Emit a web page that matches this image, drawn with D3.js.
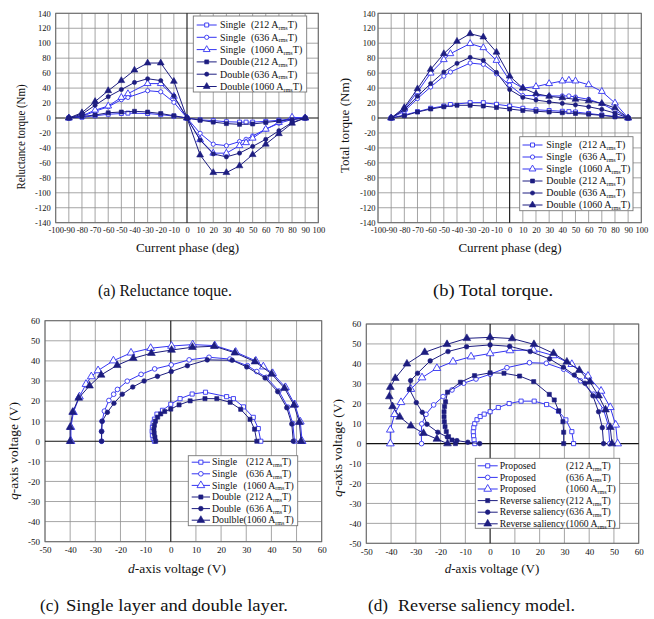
<!DOCTYPE html>
<html><head><meta charset="utf-8">
<script src="https://cdn.jsdelivr.net/npm/d3@7"></script>
<style>body{margin:0;background:#fff}</style>
</head><body>
<svg id="c" width="654" height="619"></svg>
<script>
// ---------------- DATA ----------------
const phaseTicks = [-100,-90,-80,-70,-60,-50,-40,-30,-20,-10,0,10,20,30,40,50,60,70,80,90,100];
const torqueTicks = [-140,-120,-100,-80,-60,-40,-20,0,20,40,60,80,100,120,140];
const voltTicks = [-50,-40,-30,-20,-10,0,10,20,30,40,50,60];

const phaseSingle = [-90,-80,-70,-60,-50,-45,-30,-20,-10,0,10,20,30,40,45,50,60,70,80,90];
const phaseDouble = [-90,-80,-70,-60,-50,-40,-30,-20,-10,0,10,20,30,40,50,60,70,80,90];

// (a) reluctance torque (Nm)
const relSingle212  = [0,1,3,5,6,6.5,6,4.5,2.5,0,-2.5,-3.5,-5,-5.5,-5.5,-5.5,-4.5,-3,-1.5,0];
const relSingle636  = [0,2,9,15,24.5,27.5,36.5,35,21,0,-20.5,-35,-37,-31.5,-28.5,-24,-15,-7,-2,0];
const relSingle1060 = [0,3,10.5,16,27.5,32.5,46,46,29,0,-29,-47,-47,-37,-33,-27,-15,-6,1,0];
const relDouble212  = [0,2,4,7,8,9,8,6,3,0,-3,-5.5,-7.5,-8.5,-8,-6,-4,-2,0];
const relDouble636  = [0,5,17,28.5,38,47.5,52.5,50,29.5,0,-29.5,-48,-52,-47,-38,-28.5,-17,-6,0];
const relDouble1060 = [0,7,22,36.5,50,64,73.5,73.5,49,0,-49.5,-73,-73,-64,-49,-35,-21,-7,0];

// (b) total torque (Nm)
const totSingle212  = [0,4,8.5,13,16,18,20.5,20.5,18.3,16,13,11,10,9,8.5,8,6,4,2,0];
const totSingle636  = [0,9,26,41.5,56,61.5,73.5,71.7,59,44,30,30,29.5,29.5,29.5,28,25,19,10,0];
const totSingle1060 = [0,12,35,60,78,86,99.5,94,77,50,40,42,46,49.5,50.5,49.5,44.5,35.5,20,0];
const totDouble212  = [0,3,8,12,15,17,17,16,14,12,10,9,8,7,6,5,3.5,1.5,0];
const totDouble636  = [0,11,29,46,61.5,73,81,77,61,38,27.5,24,21.5,19.5,17.5,15,11.5,6.5,0];
const totDouble1060 = [0,14,39,65,86,102.5,112.7,108.3,88,56,40,32.5,29,27,25,23,19.5,13.5,0];

// (c) dq voltages [Vd, Vq] (V)
const vSingle212 = [[-6.5,0],[-7,1.5],[-7.3,3],[-7.4,5],[-7.3,7],[-7,9],[-6.5,11],[-5.5,13.5],[-3.3,15.4],[0,18.4],[3.7,21.2],[8.5,23.5],[13.8,24.4],[22.2,22.2],[24.9,21.2],[28.9,17.1],[32.8,11.9],[34.8,6.3],[35.8,0]];
const vSingle636 = [[-27.5,0],[-27.5,5],[-27.3,10],[-26.4,15],[-24.6,20.3],[-22.7,23.4],[-21.2,25.8],[-17.3,29.9],[-11.8,33.3],[-6.4,36],[0.2,38],[7.3,40.5],[15.2,41.8],[23.5,40.9],[30.5,37.6],[34.2,34.7],[38,31.8],[43,25],[46.5,17],[48.5,8.8],[49.2,0]];
const vSingle1060 = [[-39.7,0],[-39.7,7],[-38.7,14.4],[-36.3,22.2],[-33.7,28.4],[-31.6,32.2],[-28.9,35.2],[-22.8,40.1],[-15.8,44],[-8,46.3],[0.3,47.4],[8.7,48.1],[17.5,47.6],[25.8,44.4],[33.8,40],[36.8,37.1],[40.5,33.8],[45.6,26.8],[49.3,18.3],[51.5,9.7],[52.2,0]];
const vDouble212 = [[-6,0],[-6.3,2],[-6.6,4],[-6.7,6],[-6.5,8],[-6.1,10],[-5.2,12],[-4,13.6],[-2.4,14.8],[0,16],[3.3,18.1],[7.7,20.1],[13.6,21.2],[18.3,21.2],[23.6,19.4],[27.8,15.9],[31.5,10.9],[33.3,6],[34.2,0]];
const vDouble636 = [[-27.5,0],[-27.5,4.8],[-27.3,9.9],[-25.2,14.4],[-22.6,18.9],[-19.3,23.4],[-15.1,27],[-10.6,30],[-5.3,32.3],[0.2,34.7],[6.6,37.6],[14.5,40.5],[24.4,40.3],[30.2,37],[37.5,31.5],[42.5,24.7],[46.1,16.7],[48.1,8.6],[48.7,0]];
const vDouble1060 = [[-40,0],[-40,7],[-39,14.5],[-36.6,21.5],[-32.3,27.6],[-27.7,33],[-21.3,37.8],[-14.9,41.3],[-7.7,43.8],[0.3,45.4],[8.6,46.8],[17.3,47.3],[25.5,44],[33.5,39.6],[40.1,33.5],[45.2,26.4],[49,18],[51.1,9.5],[51.8,0]];

// (d) proposed (= double layer) and reverse saliency model [Vd, Vq] (V)
const vProposed212 = [[-6.2,0],[-6.5,2],[-6.7,4],[-6.8,6],[-6.6,8],[-6.2,10],[-5.3,12],[-4,13.6],[-2.4,14.8],[0,16],[3.3,18.1],[7.7,20.1],[12.5,21.3],[17.8,21.3],[22.8,19.6],[27.6,16.3],[30.6,11.9],[33,6],[33.7,0]];
const vProposed636 = [[-27.7,0],[-27.8,5.2],[-27.6,9.9],[-25.9,14.7],[-22.8,19.4],[-19,23.6],[-15.4,26.9],[-10.7,30.3],[-5.7,32.4],[0,34.8],[6.8,38.1],[15.9,40.6],[22.7,40.3],[29.7,37.3],[36.5,31.5],[41.8,24.8],[45.8,17],[47.8,8.8],[48.3,0]];
const vProposed1060 = [[-40.3,0],[-40.3,6.9],[-38.6,14.7],[-36,20.7],[-32,27.3],[-27.5,33.1],[-21.5,37.8],[-15,41.1],[-7.7,43.6],[0,45.2],[8,46.7],[17.5,47],[25.5,44.2],[33,39.8],[39.5,33.9],[44.8,26.4],[48.5,18.2],[50.7,9.4],[51.5,0]];
const vReverse212 = [[-14,0],[-15.4,1.8],[-16.8,3.5],[-17.7,6],[-18.2,8.5],[-18.5,11],[-18.6,13.5],[-18.6,16],[-18.4,18.6],[-18,21],[-17.2,25.8],[-12,30.8],[-6.3,34.1],[0,35.5],[5.6,35.3],[11.9,33.9],[17.6,31.1],[23.9,24.7],[25.9,21.9],[27.7,16.4],[29.4,11],[29.7,5.7],[29.7,0]];
const vReverse636 = [[-4.2,0],[-9,0.7],[-13.4,1.5],[-17.3,3.3],[-21.1,5.7],[-25.5,9.7],[-27.4,15.7],[-29.8,20.6],[-32.6,27.3],[-32.1,31.6],[-29.3,35.3],[-24.2,41.5],[-17,46.2],[-9.5,48.6],[0,49.5],[7.9,48.8],[16.2,46.2],[24,42.5],[29.6,38.3],[34,34.4],[38.3,30.3],[41.5,24],[43.8,16],[45.3,8],[45.8,0]];
const vReverse1060 = [[-17.2,0],[-21.5,2.3],[-26.9,5.2],[-32,8.9],[-36.5,13.4],[-39.4,18.6],[-40.7,23.6],[-40.3,28.3],[-38.3,32.8],[-33.6,40],[-26.4,45.8],[-17.4,49.8],[-9.4,52.8],[0,53.3],[8.9,52.7],[17.7,49.8],[25.6,45.3],[31,41],[36,36.8],[40.3,31],[43.8,24],[46.6,17],[48.5,8.2],[49.2,0]];

const currents = ["212","636","1060"];
const namesAB = ["Single ","Single ","Single ","Double","Double","Double"];
const namesC  = ["Single ","Single ","Single ","Double ","Double ","Doulble"];
const namesD  = ["Proposed","Proposed","Proposed","Reverse saliency","Reverse saliency","Reverse saliency"];
const captions = ["(a) Reluctance toque.","(b) Total torque.","(c)","Single layer and double layer.","(d)","Reverse saliency model."];

// ---------------- DRAWING ----------------
const FONT = "'Liberation Serif','Times New Roman',serif";
const LIGHT = "#3434f2", DARK = "#1d1d80", GRID = "#8e8e8e";
const svg = d3.select("#c");
const symTypes = [d3.symbolSquare, d3.symbolCircle, d3.symbolTriangle];

function zip(xs, ys){ return xs.map((v,i)=>[v, ys[i]]); }

function panel(p){
  const x = d3.scaleLinear().domain(p.xDom).range([p.L,p.R]);
  const y = d3.scaleLinear().domain(p.yDom).range([p.B,p.T]);
  const g = svg.append("g");
  g.append("g").selectAll("line").data(p.xTicks.filter(d=>d!==0)).join("line")
    .attr("x1",d=>x(d)).attr("x2",d=>x(d)).attr("y1",p.T).attr("y2",p.B)
    .attr("stroke",GRID).attr("stroke-width",0.8);
  g.append("g").selectAll("line").data(p.yTicks.filter(d=>d!==0)).join("line")
    .attr("y1",d=>y(d)).attr("y2",d=>y(d)).attr("x1",p.L).attr("x2",p.R)
    .attr("stroke",GRID).attr("stroke-width",0.8);
  g.append("rect").attr("x",p.L).attr("y",p.T).attr("width",p.R-p.L).attr("height",p.B-p.T)
    .attr("fill","none").attr("stroke","#6a6a6a").attr("stroke-width",1);
  g.append("line").attr("x1",x(0)).attr("x2",x(0)).attr("y1",p.T).attr("y2",p.B).attr("stroke","#111").attr("stroke-width",1.1);
  g.append("line").attr("y1",y(0)).attr("y2",y(0)).attr("x1",p.L).attr("x2",p.R).attr("stroke","#111").attr("stroke-width",1.1);

  const xa = d3.axisBottom(x).tickValues(p.xTicks).tickSize(0).tickPadding(p.xPad).tickFormat(d=>String(d));
  g.append("g").attr("transform",`translate(0,${p.B})`).call(xa)
    .attr("font-size",p.tickFs).attr("font-family",FONT)
    .call(s=>s.select(".domain").remove()).selectAll("text").attr("fill","#111");
  const ya = d3.axisLeft(y).tickValues(p.yTicks).tickSize(0).tickPadding(p.yPad).tickFormat(d=>String(d));
  g.append("g").attr("transform",`translate(${p.L},0)`).call(ya)
    .attr("font-size",p.tickFs).attr("font-family",FONT)
    .call(s=>s.select(".domain").remove()).selectAll("text").attr("fill","#111");

  // series
  p.series.forEach((s,i)=>{
    const open = i<3, col = open?LIGHT:DARK, sym = symTypes[i%3];
    g.append("path").datum(s).attr("fill","none").attr("stroke",col).attr("stroke-width",1)
      .attr("d", d3.line().x(d=>x(d[0])).y(d=>y(d[1])));
    g.append("g").selectAll("path").data(s).join("path")
      .attr("transform",d=>`translate(${x(d[0])},${y(d[1])})`)
      .attr("d", d3.symbol(sym, p.msize[i%3]))
      .attr("fill", open?"#fff":col).attr("stroke",col).attr("stroke-width",open?0.9:0.6);
  });

  // legend
  const lg = p.leg;
  g.append("rect").attr("x",lg.x0).attr("y",lg.y0).attr("width",lg.x1-lg.x0).attr("height",lg.y1-lg.y0)
    .attr("fill","#fff").attr("stroke","#777").attr("stroke-width",0.9);
  p.names.forEach((nm,i)=>{
    const open = i<3, col = open?LIGHT:DARK, yy = lg.r0 + i*lg.dr;
    g.append("line").attr("x1",lg.l0).attr("x2",lg.l1).attr("y1",yy).attr("y2",yy).attr("stroke",col).attr("stroke-width",1);
    g.append("path").attr("transform",`translate(${(lg.l0+lg.l1)/2},${yy})`)
      .attr("d", d3.symbol(symTypes[i%3], p.msize[i%3]))
      .attr("fill", open?"#fff":col).attr("stroke",col).attr("stroke-width",open?0.9:0.6);
    const t = g.append("text").attr("font-family",FONT).attr("font-size",lg.fs).attr("fill","#111").attr("y",yy+lg.fs*0.33);
    t.append("tspan").attr("x",lg.tx).text(nm);
    const px = lg.px - (i%3===2 ? lg.shift1060 : 0);
    t.append("tspan").attr("x",px).text("("+currents[i%3]+" A");
    t.append("tspan").attr("font-size",lg.fs*0.62).attr("dy",1.8).text("rms");
    t.append("tspan").attr("dy",-1.8).text("T)");
  });

  // axis titles
  const xt = g.append("text").attr("font-family",FONT).attr("font-size",p.xt.fs).attr("fill","#111")
    .attr("text-anchor","middle").attr("x",p.xt.x).attr("y",p.xt.y);
  if (p.xt.ital){ xt.append("tspan").attr("font-style","italic").text(p.xt.ital); }
  xt.append("tspan").text(p.xt.text);
  const yt = g.append("text").attr("font-family",FONT).attr("font-size",p.yt.fs).attr("fill","#111")
    .attr("text-anchor","middle").attr("transform",`translate(${p.yt.x},${p.yt.y}) rotate(-90)`);
  if (p.yt.ital){ yt.append("tspan").attr("font-style","italic").text(p.yt.ital); }
  yt.append("tspan").text(p.yt.text);
  if (p.yt.len) yt.attr("textLength",p.yt.len).attr("lengthAdjust","spacingAndGlyphs");
}

const torqueCommon = {xDom:[-100,100], yDom:[-140,140], xTicks:phaseTicks, yTicks:torqueTicks,
  T:13.3, B:222.7, xPad:4, tickFs:8.5, msize:[16,14,20]};

panel(Object.assign({}, torqueCommon, {
  L:55.7, R:318.3, yPad:5,
  series:[zip(phaseSingle,relSingle212),zip(phaseSingle,relSingle636),zip(phaseSingle,relSingle1060),
          zip(phaseDouble,relDouble212),zip(phaseDouble,relDouble636),zip(phaseDouble,relDouble1060)],
  names:namesAB,
  leg:{x0:193.3,y0:16,x1:306.7,y1:92,r0:25,dr:12.3,l0:196.7,l1:216.7,tx:220,px:251,shift1060:0,fs:10},
  xt:{text:"Current phase (deg)",x:187.5,y:251.5,fs:13},
  yt:{text:"Reluctance torque (Nm)",x:24.5,y:137,fs:12,len:105}
}));

panel(Object.assign({}, torqueCommon, {
  L:378, R:641.3, yPad:2.5,
  series:[zip(phaseSingle,totSingle212),zip(phaseSingle,totSingle636),zip(phaseSingle,totSingle1060),
          zip(phaseDouble,totDouble212),zip(phaseDouble,totDouble636),zip(phaseDouble,totDouble1060)],
  names:namesAB,
  leg:{x0:519.7,y0:136.7,x1:633,y1:210.7,r0:145,dr:12,l0:522.5,l1:542.5,tx:546.3,px:579,shift1060:0,fs:10},
  xt:{text:"Current phase (deg)",x:510,y:251.5,fs:13},
  yt:{text:"Total torque (Nm)",x:348.5,y:125.5,fs:13,len:95}
}));

panel({xDom:[-50,60], yDom:[-50,60], xTicks:voltTicks, yTicks:voltTicks,
  L:45, R:321.7, T:320.7, B:541.7, xPad:5, yPad:5, tickFs:9, msize:[17,17,26],
  series:[vSingle212,vSingle636,vSingle1060,vDouble212,vDouble636,vDouble1060],
  names:namesC,
  leg:{x0:188.3,y0:455.7,x1:297.7,y1:525.7,r0:460.7+1.5,dr:11.6,l0:191.7,l1:210,tx:212,px:246,shift1060:2.5,fs:9.8},
  xt:{ital:"d",text:"-axis voltage (V)",x:177,y:573,fs:13.5},
  yt:{ital:"q",text:"-axis voltage (V)",x:18,y:451,fs:13.5}
});

panel({xDom:[-50,60], yDom:[-50,60], xTicks:voltTicks, yTicks:voltTicks,
  L:366.3, R:638.7, T:324, B:543.3, xPad:5, yPad:5, tickFs:9, msize:[17,17,26],
  series:[vProposed212,vProposed636,vProposed1060,vReverse212,vReverse636,vReverse1060],
  names:namesD,
  leg:{x0:475.3,y0:458.3,x1:619.7,y1:528.3,r0:464.3+1.5,dr:11.6,l0:477.7,l1:497.7,tx:499.7,px:566,shift1060:0,fs:9.7},
  xt:{ital:"d",text:"-axis voltage (V)",x:492,y:573,fs:13},
  yt:{ital:"q",text:"-axis voltage (V)",x:342,y:448,fs:13.5}
});

// captions
const cap = svg.append("g").attr("font-family",FONT).attr("font-size",16).attr("fill","#111");
function caption(txt, x, y, len){
  cap.append("text").attr("x",x).attr("y",y).attr("textLength",len).attr("lengthAdjust","spacingAndGlyphs").text(txt);
}
caption(captions[0], 98, 296, 134);
caption(captions[1], 433, 296, 120);
caption(captions[2], 40, 611, 19);
caption(captions[3], 66, 611, 222);
caption(captions[4], 368, 611, 20);
caption(captions[5], 398, 611, 177);
</script>
</body></html>
